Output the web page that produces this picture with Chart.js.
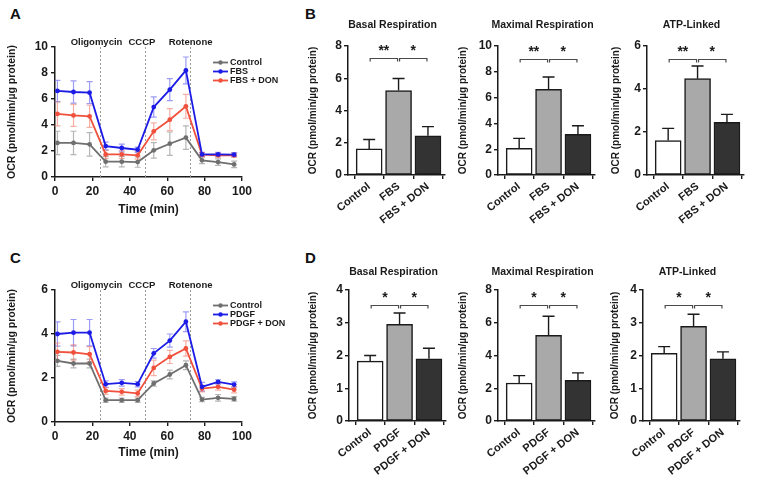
<!DOCTYPE html>
<html><head><meta charset="utf-8">
<script src="https://cdn.jsdelivr.net/npm/chart.js@4/dist/chart.umd.min.js"></script>
<style>
html,body{margin:0;padding:0;background:#fff;}
#fig{position:relative;width:757px;height:490px;overflow:hidden;background:#fff;}
#fig canvas{position:absolute;}
.lbl{position:absolute;font:bold 15px 'Liberation Sans',Arial,sans-serif;color:#111;line-height:15px;}
</style></head><body>
<div id="fig">
  <div class="lbl" style="left:10px;top:6px">A</div>
  <div class="lbl" style="left:305px;top:6px">B</div>
  <div class="lbl" style="left:10px;top:250px">C</div>
  <div class="lbl" style="left:305px;top:250px">D</div>
  <canvas id="cA"></canvas><canvas id="cC"></canvas>
  <canvas id="cB1"></canvas><canvas id="cB2"></canvas><canvas id="cB3"></canvas>
  <canvas id="cD1"></canvas><canvas id="cD2"></canvas><canvas id="cD3"></canvas>
</div>
<script>
// ---------- DATA ----------
const timeMin = [1.3, 9.9, 18.5, 27.1, 35.7, 44.2, 52.8, 61.4, 70.0, 78.6, 87.2, 95.8];
const injectionTimes = [24, 48, 72];
const injectionNames = ['Oligomycin', 'CCCP', 'Rotenone'];

const seriesNamesA = ['Control', 'FBS', 'FBS + DON'];
const ocrControlA    = [2.62, 2.62, 2.51, 1.18, 1.18, 1.15, 2.05, 2.56, 3.03, 1.28, 1.15, 0.97];
const ocrControlAErr = [0.90, 0.90, 0.90, 0.40, 0.40, 0.40, 0.60, 0.90, 0.90, 0.25, 0.25, 0.25];
const ocrFbsA        = [6.62, 6.54, 6.49, 2.38, 2.23, 2.10, 5.38, 6.72, 8.20, 1.74, 1.74, 1.72];
const ocrFbsAErr     = [0.82, 0.85, 0.85, 0.30, 0.30, 0.20, 0.78, 0.85, 1.03, 0.15, 0.15, 0.15];
const ocrDonA        = [4.85, 4.74, 4.67, 1.74, 1.74, 1.67, 3.51, 4.41, 5.44, 1.72, 1.67, 1.67];
const ocrDonAErr     = [0.92, 0.85, 0.85, 0.30, 0.30, 0.30, 0.65, 0.85, 0.92, 0.15, 0.15, 0.15];

const seriesNamesC = ['Control', 'PDGF', 'PDGF + DON'];
const ocrControlC    = [2.78, 2.66, 2.66, 0.99, 0.99, 0.99, 1.75, 2.16, 2.58, 1.02, 1.10, 1.05];
const ocrControlCErr = [0.25, 0.20, 0.20, 0.10, 0.10, 0.10, 0.12, 0.20, 0.20, 0.10, 0.15, 0.10];
const ocrPdgfC       = [4.00, 4.06, 4.06, 1.72, 1.78, 1.72, 3.12, 3.70, 4.56, 1.60, 1.82, 1.70];
const ocrPdgfCErr    = [0.55, 0.60, 0.60, 0.15, 0.15, 0.12, 0.22, 0.30, 0.45, 0.20, 0.10, 0.12];
const ocrDonC        = [3.19, 3.16, 3.08, 1.41, 1.37, 1.30, 2.46, 2.96, 3.34, 1.52, 1.60, 1.47];
const ocrDonCErr     = [0.40, 0.35, 0.35, 0.15, 0.15, 0.15, 0.35, 0.30, 0.35, 0.15, 0.15, 0.15];

const yMaxLine = [10, 6];

const barGroupsB = ['Control', 'FBS', 'FBS + DON'];
const barGroupsD = ['Control', 'PDGF', 'PDGF + DON'];
const barTitles = ['Basal Respiration', 'Maximal Respiration', 'ATP-Linked'];
const basalB = [1.62, 5.24, 2.43],   basalBErr = [0.58, 0.74, 0.57];
const maximalB = [2.07, 6.64, 3.15], maximalBErr = [0.77, 0.96, 0.67];
const atpB = [1.60, 4.48, 2.45],     atpBErr = [0.57, 0.59, 0.37];
const basalD = [1.83, 2.95, 1.90],   basalDErr = [0.17, 0.35, 0.32];
const maximalD = [2.32, 5.23, 2.48], maximalDErr = [0.45, 1.17, 0.46];
const atpD = [2.07, 2.89, 1.90],     atpDErr = [0.20, 0.37, 0.21];
const yMaxB = [8, 10, 6], yStepB = [2, 2, 2];
const yMaxD = [4, 8, 4],  yStepD = [1, 2, 1];
const sigB = ['**', '*'], sigD = ['*', '*'];
const bracketYB = [7.27, 9.0, 5.4];
const bracketYD = [3.54, 7.08, 3.54];

// ---------- STYLE ----------
const FONT = "'Liberation Sans', Arial, sans-serif";
Chart.defaults.font.family = FONT;
Chart.defaults.color = '#1a1a1a';
Chart.defaults.animation = false;
Chart.defaults.plugins.legend.display = false;
Chart.defaults.plugins.tooltip.enabled = false;

const lineColors = ['#6f6f6f', '#1c1ce6', '#f0503c'];
const errColors = ['rgba(120,120,120,0.55)', 'rgba(90,90,240,0.6)', 'rgba(240,110,90,0.55)'];
const barFills = ['#ffffff', '#a9a9a9', '#333333'];

function drawErrors(chart, o) {
  const {ctx, scales: {y}} = chart;
  ctx.save();
  chart.data.datasets.forEach((ds, di) => {
    const err = o.errors[di]; if (!err) return;
    const meta = chart.getDatasetMeta(di);
    ctx.strokeStyle = o.errorColors[di]; ctx.lineWidth = o.errorWidth;
    meta.data.forEach((el, i) => {
      const v = ds.data[i].y, px = el.x;
      const yTop = y.getPixelForValue(v + err[i]);
      const yBot = y.getPixelForValue(o.twoSided ? v - err[i] : v);
      ctx.beginPath();
      ctx.moveTo(px, yBot); ctx.lineTo(px, yTop);
      ctx.moveTo(px - o.cap, yTop); ctx.lineTo(px + o.cap, yTop);
      if (o.twoSided) { ctx.moveTo(px - o.cap, yBot); ctx.lineTo(px + o.cap, yBot); }
      ctx.stroke();
    });
  });
  ctx.restore();
}

const extras = {
  id: 'extras',
  beforeDatasetsDraw(chart, args, o) {
    const {ctx, chartArea: ca, scales: {x}} = chart;
    if (o.vlines) {
      ctx.save();
      ctx.strokeStyle = '#9a9a9a'; ctx.lineWidth = 1; ctx.setLineDash([2, 2]);
      o.vlines.forEach(v => {
        const px = Math.round(x.getPixelForValue(v)) + 0.5;
        ctx.beginPath(); ctx.moveTo(px, ca.top); ctx.lineTo(px, ca.bottom); ctx.stroke();
      });
      ctx.restore();
    }
    if (o.errors && o.twoSided) drawErrors(chart, o);
  },
  afterDatasetsDraw(chart, args, o) {
    if (o.errors && !o.twoSided) drawErrors(chart, o);
  },
  afterDraw(chart, args, o) {
    const {ctx, chartArea: ca, scales: {x, y}} = chart;
    ctx.save();
    ctx.fillStyle = '#1a1a1a';
    if (o.phases) {
      ctx.font = 'bold 9.5px ' + FONT; ctx.textAlign = 'center'; ctx.textBaseline = 'middle';
      o.phases.names.forEach((n, i) => ctx.fillText(n, x.getPixelForValue(o.phases.at[i]), ca.top - 5));
    }
    if (o.legend) {
      const L = o.legend;
      ctx.font = 'bold 9px ' + FONT; ctx.textAlign = 'left'; ctx.textBaseline = 'middle';
      L.names.forEach((n, i) => {
        const yy = ca.top + L.dy + i * 9, x0 = ca.right + L.dx;
        ctx.strokeStyle = L.colors[i]; ctx.lineWidth = 1.8;
        ctx.beginPath(); ctx.moveTo(x0, yy); ctx.lineTo(x0 + 15, yy); ctx.stroke();
        ctx.fillStyle = L.colors[i];
        ctx.beginPath(); ctx.arc(x0 + 7.5, yy, 2.2, 0, Math.PI * 2); ctx.fill();
        ctx.fillStyle = '#1a1a1a';
        ctx.fillText(n, x0 + 17, yy + 0.5);
      });
    }
    if (o.title) {
      ctx.font = 'bold 10.5px ' + FONT; ctx.textAlign = 'center'; ctx.textBaseline = 'middle';
      ctx.fillText(o.title.text, (ca.left + ca.right) / 2 + o.title.dx, ca.top - o.title.dy);
    }
    if (o.brackets) {
      ctx.strokeStyle = '#4a4a4a'; ctx.lineWidth = 1.2;
      o.brackets.forEach(b => {
        const x1 = x.getPixelForValue(b.from) + 1, x2 = x.getPixelForValue(b.to) - 1;
        const py = Math.round(y.getPixelForValue(b.y)) + 0.5;
        ctx.beginPath(); ctx.moveTo(x1, py + 3); ctx.lineTo(x1, py); ctx.lineTo(x2, py); ctx.lineTo(x2, py + 3); ctx.stroke();
        ctx.font = 'bold 14px ' + FONT; ctx.textAlign = 'center'; ctx.textBaseline = 'alphabetic';
        ctx.fillStyle = '#1a1a1a';
        ctx.fillText(b.label, (x1 + x2) / 2, py - 11 + 7.7);
      });
    }
    ctx.restore();
  }
};

function place(canvas, r) {
  canvas.width = r.w; canvas.height = r.h;
  canvas.style.left = r.x + 'px'; canvas.style.top = r.y + 'px';
  canvas.style.width = r.w + 'px'; canvas.style.height = r.h + 'px';
}
function geom(c, p) {
  return {
    padding: {top: p.t - c.y, right: c.x + c.w - p.r, left: 0, bottom: 0},
    yW: p.l - c.x, xH: c.y + c.h - p.b
  };
}
const axisGrid = {display: true, drawOnChartArea: false, drawTicks: true, tickLength: 4, color: '#1a1a1a', lineWidth: 1.4};
const axisBorder = {display: true, color: '#1a1a1a', width: 1.5};
const yTitleText = 'OCR (pmol/min/µg protein)';

function makeLine(id, c, p, series, errs, names, yMax, titleBottomPad) {
  const cv = document.getElementById(id); place(cv, c);
  const g = geom(c, p);
  new Chart(cv, {
    type: 'line',
    data: {
      datasets: series.map((s, i) => ({
        label: names[i],
        data: timeMin.map((t, k) => ({x: t, y: s[k]})),
        borderColor: lineColors[i], backgroundColor: lineColors[i],
        borderWidth: 1.8, pointRadius: 2.4, pointBorderWidth: 0, tension: 0,
        order: [2, 0, 1][i]
      }))
    },
    options: {
      responsive: false, maintainAspectRatio: false,
      layout: {padding: g.padding},
      scales: {
        x: {type: 'linear', min: 0, max: 100,
            afterFit: s => { s.height = g.xH; },
            ticks: {stepSize: 20, font: {size: 12, weight: 'bold'}, padding: 3, color: '#1a1a1a'},
            grid: axisGrid, border: axisBorder,
            title: {display: true, text: 'Time (min)', font: {size: 12, weight: 'bold'}, color: '#1a1a1a', padding: {top: 0, bottom: titleBottomPad}}},
        y: {min: 0, max: yMax,
            afterFit: s => { s.width = g.yW; },
            ticks: {stepSize: 2, font: {size: 12, weight: 'bold'}, padding: 3, color: '#1a1a1a'},
            grid: axisGrid, border: axisBorder,
            title: {display: true, text: yTitleText, font: {size: 10.5, weight: 'bold'}, color: '#1a1a1a', padding: {top: 6, bottom: 0}}}
      },
      plugins: {
        extras: {
          vlines: injectionTimes,
          phases: {names: injectionNames, at: [22.2, 46.5, 72.5]},
          legend: {names: names, colors: lineColors, dx: -29, dy: 15.5},
          errors: errs, errorColors: errColors, errorWidth: 1.2, cap: 3, twoSided: true
        }
      }
    },
    plugins: [extras]
  });
}

function makeBar(id, c, p, cats, vals, errs, yMax, yStep, title, titleDy, sig, bY) {
  const cv = document.getElementById(id); place(cv, c);
  const g = geom(c, p);
  new Chart(cv, {
    type: 'bar',
    data: {
      datasets: [{
        data: vals.map((v, i) => ({x: i, y: v})),
        backgroundColor: barFills, borderColor: '#1a1a1a', borderWidth: 1.5,
        borderSkipped: false, barThickness: 26
      }]
    },
    options: {
      responsive: false, maintainAspectRatio: false,
      layout: {padding: g.padding},
      scales: {
        x: {type: 'linear', min: -0.72, max: 2.58, offset: false,
            afterFit: s => { s.height = g.xH; },
            ticks: {stepSize: 1, includeBounds: false, autoSkip: false, minRotation: 38, maxRotation: 38,
                    font: {size: 11, weight: 'bold'}, padding: 1, color: '#1a1a1a',
                    callback: v => cats[v] !== undefined ? cats[v] : ''},
            grid: axisGrid, border: axisBorder},
        y: {min: 0, max: yMax,
            afterFit: s => { s.width = g.yW; },
            ticks: {stepSize: yStep, font: {size: 12, weight: 'bold'}, padding: 2, color: '#1a1a1a'},
            grid: axisGrid, border: axisBorder,
            title: {display: true, text: yTitleText, font: {size: 10, weight: 'bold'}, color: '#1a1a1a', padding: {top: 7, bottom: 0}}}
      },
      plugins: {
        extras: {
          errors: [errs], errorColors: ['#1a1a1a'], errorWidth: 1.4, cap: 6, twoSided: false,
          title: {text: title, dx: -4, dy: titleDy},
          brackets: [{from: 0, to: 1, y: bY, label: sig[0]}, {from: 1, to: 2, y: bY, label: sig[1]}]
        }
      }
    },
    plugins: [extras]
  });
}

// ---------- LAYOUT ----------
makeLine('cA', {x: 0, y: 28, w: 300, h: 192}, {l: 55, r: 242, t: 47, b: 177},
  [ocrControlA, ocrFbsA, ocrDonA], [ocrControlAErr, ocrFbsAErr, ocrDonAErr], seriesNamesA, yMaxLine[0], 3);
makeLine('cC', {x: 0, y: 268, w: 300, h: 194}, {l: 55, r: 242, t: 290, b: 422},
  [ocrControlC, ocrPdgfC, ocrDonC], [ocrControlCErr, ocrPdgfCErr, ocrDonCErr], seriesNamesC, yMaxLine[1], 2);

makeBar('cB1', {x: 300, y: 8, w: 152, h: 222}, {l: 348, r: 445, t: 46, b: 175},
  barGroupsB, basalB, basalBErr, yMaxB[0], yStepB[0], barTitles[0], 21, sigB, bracketYB[0]);
makeBar('cB2', {x: 450, y: 8, w: 152, h: 222}, {l: 498, r: 595, t: 46, b: 175},
  barGroupsB, maximalB, maximalBErr, yMaxB[1], yStepB[1], barTitles[1], 21, sigB, bracketYB[1]);
makeBar('cB3', {x: 603, y: 8, w: 154, h: 222}, {l: 647, r: 744, t: 46, b: 175},
  barGroupsB, atpB, atpBErr, yMaxB[2], yStepB[2], barTitles[2], 21, sigB, bracketYB[2]);

makeBar('cD1', {x: 300, y: 250, w: 152, h: 230}, {l: 349, r: 446, t: 290, b: 421},
  barGroupsD, basalD, basalDErr, yMaxD[0], yStepD[0], barTitles[0], 18, sigD, bracketYD[0]);
makeBar('cD2', {x: 450, y: 250, w: 152, h: 230}, {l: 498, r: 595, t: 290, b: 421},
  barGroupsD, maximalD, maximalDErr, yMaxD[1], yStepD[1], barTitles[1], 18, sigD, bracketYD[1]);
makeBar('cD3', {x: 602, y: 250, w: 155, h: 230}, {l: 643, r: 740, t: 290, b: 421},
  barGroupsD, atpD, atpDErr, yMaxD[2], yStepD[2], barTitles[2], 18, sigD, bracketYD[2]);
</script>
</body></html>
